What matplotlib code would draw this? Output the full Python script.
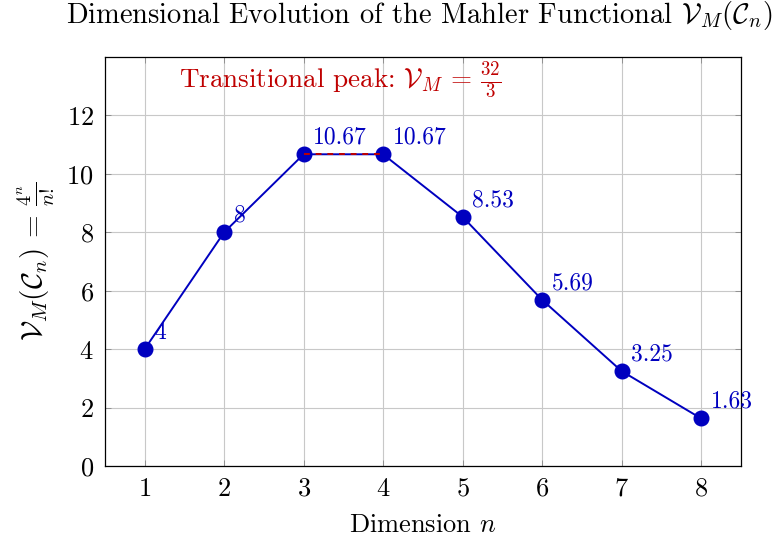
import matplotlib
matplotlib.use("Agg")
import matplotlib.pyplot as plt

plt.rcParams['font.family'] = 'serif'
plt.rcParams['font.serif'] = ['cmr10']
plt.rcParams['mathtext.fontset'] = 'cm'
plt.rcParams['axes.formatter.use_mathtext'] = True

dims = [1, 2, 3, 4, 5, 6, 7, 8]
values = [4, 8, 10.67, 10.67, 8.53, 5.69, 3.25, 1.63]
point_labels = ["4", "8", "10.67", "10.67", "8.53", "5.69", "3.25", "1.63"]
peak_x = [3, 4]
peak_y = [10.67, 10.67]

blue = '#0000bf'
red = '#bf0000'

fig = plt.figure(figsize=(7.83, 5.44), dpi=100)
ax = fig.add_axes([0.134, 0.1434, 0.812, 0.7518])

ax.plot(dims, values, color=blue, lw=1.4, marker='o', ms=10.5, zorder=3)
ax.plot(peak_x, peak_y, color=red, lw=1.4, ls=(0, (3, 3)), zorder=4)

for x, y, s in zip(dims, values, point_labels):
    ax.annotate(s, (x, y), xytext=(7, 4), textcoords='offset points',
                color=blue, fontsize=17, ha='left', va='bottom',
                annotation_clip=False)

ax.text(3.46, 13.2, r'Transitional peak: $\mathcal{V}_M\,=\,\frac{32}{3}$',
        color=red, fontsize=19.5, ha='center', va='center')

ax.set_xlim(0.5, 8.5)
ax.set_ylim(0, 14)
ax.set_xticks(dims)
ax.set_yticks([0, 2, 4, 6, 8, 10, 12])
ax.grid(True, color='#c8c8c8', lw=0.8)
ax.set_axisbelow(True)
ax.tick_params(direction='in', length=4, width=0.6, color='#888888',
               labelsize=19, top=True, right=True, pad=8)
for sp in ax.spines.values():
    sp.set_linewidth(0.9)

ax.set_xlabel(r'Dimension $n$', fontsize=19, labelpad=9)
ax.set_ylabel(r'$\mathcal{V}_M(\mathcal{C}_n)\,=\,\frac{4^n}{n!}$', fontsize=21, labelpad=7)
fig.text(0.536, 1 - 16 / 544,
         r'Dimensional Evolution of the Mahler Functional $\mathcal{V}_M(\mathcal{C}_n)$',
         fontsize=20.5, ha='center', va='center')

fig.savefig('out.png', dpi=100)
